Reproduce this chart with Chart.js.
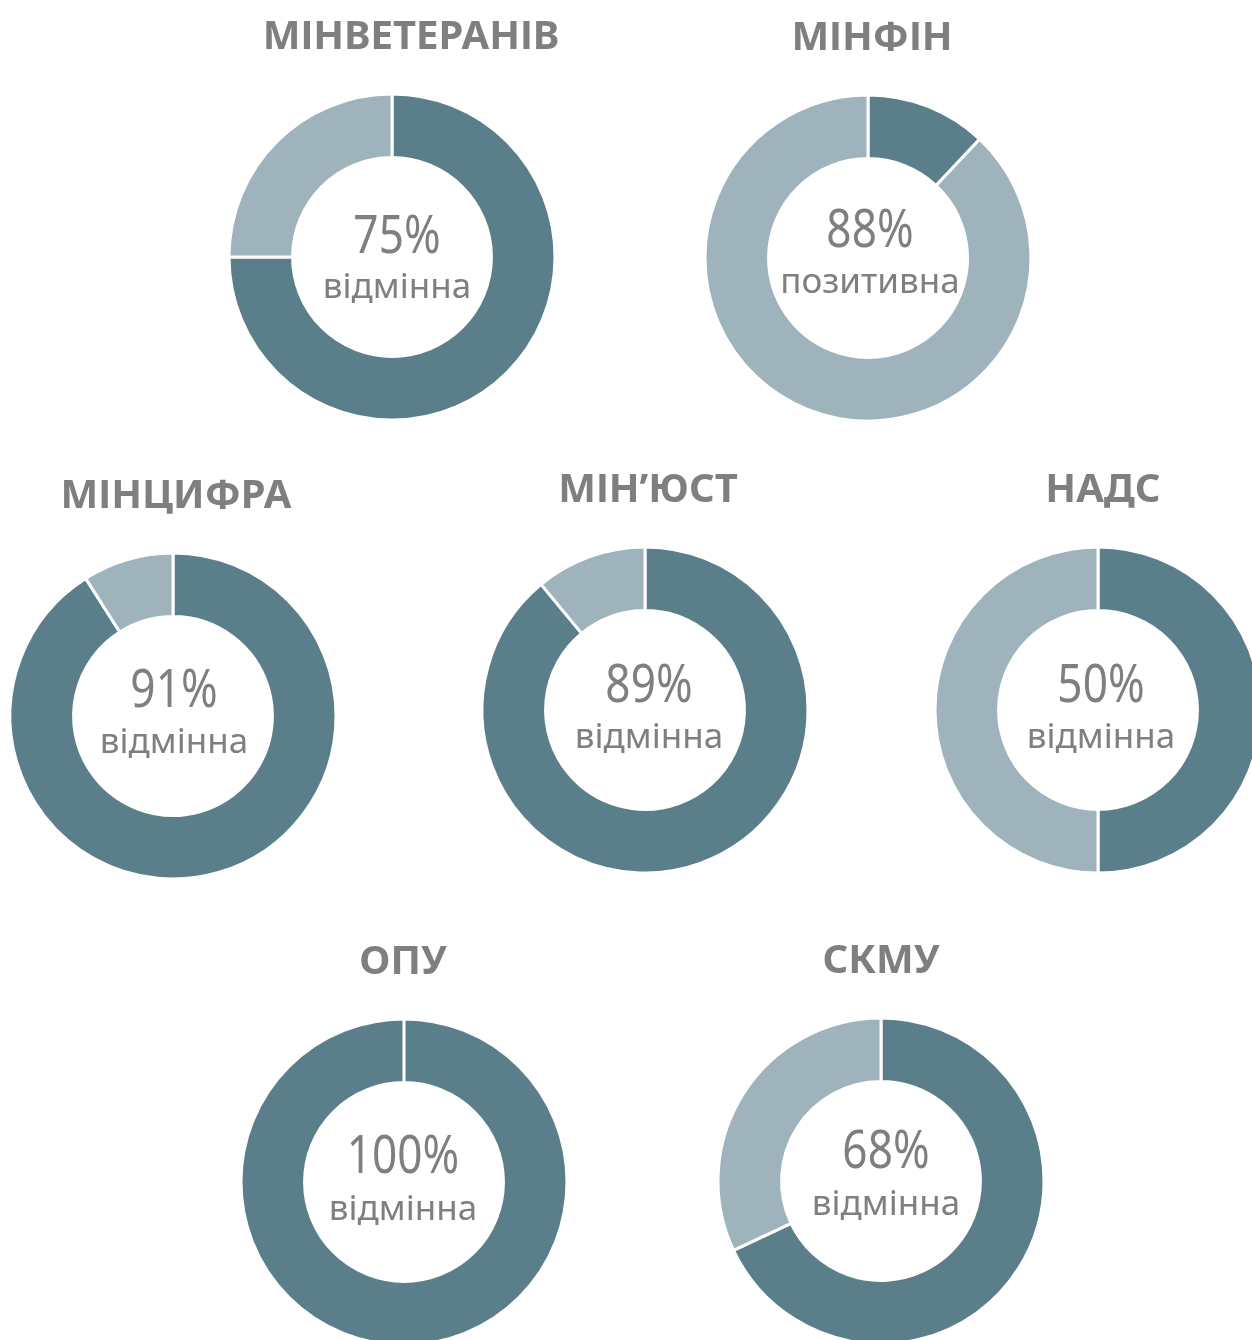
<!DOCTYPE html>
<html lang="uk">
<head>
<meta charset="utf-8">
<title>Оцінка співпраці</title>
<script src="https://cdn.jsdelivr.net/npm/chart.js@4.4.1/dist/chart.umd.min.js"></script>
<style>
  html, body {
    margin: 0;
    padding: 0;
    background: #ffffff;
  }
  body {
    width: 1252px;
    height: 1340px;
    overflow: hidden;
    position: relative;
  }
  .donut {
    position: absolute;
  }
</style>
</head>
<body>

<script>
// дані
const titles = ['МІНВЕТЕРАНІВ', 'МІНФІН', 'МІНЦИФРА', 'МІН’ЮСТ', 'НАДС', 'ОПУ', 'СКМУ'];
const darkValues = [75, 12, 91, 89, 50, 100, 68];
const lightValues = [25, 88, 9, 11, 50, 0, 32];
const centerNumbers = ['75%', '88%', '91%', '89%', '50%', '100%', '68%'];
const centerLabels = ['відмінна', 'позитивна', 'відмінна', 'відмінна', 'відмінна', 'відмінна', 'відмінна'];

// розташування (центри кілець)
const centers = [[392, 257], [868, 258], [173, 716], [645, 710], [1098, 710], [404, 1182], [881, 1181]];
const titleDx = [19, 4, 3, 3, 5, -1, 0];
const textDx = [5, 2, 1, 4, 3, -1, 5];
const numDy = [-4, -11, -9, -8, -8, -9, -13];
const labelDy = [41, 35, 37, 38, 38, 38, 34];

const DARK = '#5b7f8a';
const LIGHT = '#9eb3bb';
const TEXT = '#7f7f7f';

const W = 360, H = 440;

// текст з горизонтальним стисненням
function drawText(ctx, text, x, y, font, sx) {
    ctx.save();
    ctx.font = font;
    ctx.fillStyle = TEXT;
    ctx.textAlign = 'center';
    ctx.textBaseline = 'alphabetic';
    ctx.translate(x, y);
    ctx.scale(sx, 1);
    ctx.fillText(text, 0, 0);
    ctx.restore();
}

const labelsPlugin = {
    id: 'donutLabels',
    afterDraw(chart) {
        const i = chart.options.plugins.donutLabels.index;
        const arc = chart.getDatasetMeta(0).data[0];
        const ctx = chart.ctx;
        drawText(ctx, titles[i], arc.x + titleDx[i], arc.y - 208, 'bold 40px "Noto Sans"', 1);
        drawText(ctx, centerNumbers[i], arc.x + textDx[i], arc.y + numDy[i], '52px "Noto Sans"', 0.85);
        drawText(ctx, centerLabels[i], arc.x + textDx[i], arc.y + labelDy[i], '35px "Noto Sans"', 1);
    }
};

titles.forEach((t, i) => {
    const box = document.createElement('div');
    box.className = 'donut';
    box.style.left = (centers[i][0] - W / 2) + 'px';
    box.style.top = (centers[i][1] - 260) + 'px';
    const canvas = document.createElement('canvas');
    canvas.width = W;
    canvas.height = H;
    box.appendChild(canvas);
    document.body.appendChild(box);

    new Chart(canvas.getContext('2d'), {
        type: 'doughnut',
        data: {
            labels: ['відмінна', 'інша'],
            datasets: [{
                data: [darkValues[i], lightValues[i]],
                backgroundColor: [DARK, LIGHT],
                borderColor: '#ffffff',
                borderWidth: 3,
                hoverOffset: 0
            }]
        },
        options: {
            responsive: false,
            animation: false,
            radius: 163,
            cutout: '61%',
            layout: {
                padding: { top: 85, bottom: 5, left: 5, right: 5 }
            },
            plugins: {
                legend: { display: false },
                tooltip: { enabled: false },
                donutLabels: { index: i }
            }
        },
        plugins: [labelsPlugin]
    });
});
</script>
</body>
</html>
